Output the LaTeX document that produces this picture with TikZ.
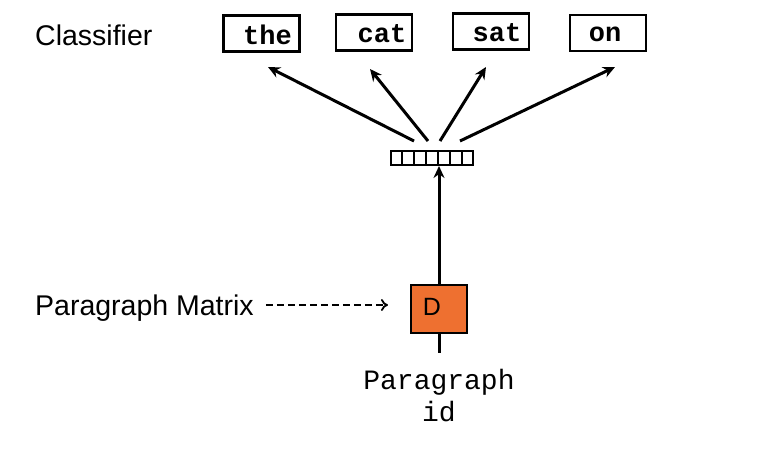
\documentclass[tikz,border=0pt]{standalone}
\usepackage{fontspec}
\setmainfont{Liberation Sans}
\newfontfamily\monof{Liberation Mono}
\usetikzlibrary{arrows.meta,calc}
\definecolor{dorange}{HTML}{EE7030}
\tikzset{
  wordbox/.style={draw, line width=2.4pt, minimum width=76pt, minimum height=36pt, inner sep=0pt},
  wordtxt/.style={font=\monof\bfseries\fontsize{27}{27}\selectfont, inner sep=0pt},
  sanslbl/.style={font=\fontsize{28.5}{30}\selectfont, inner sep=0pt},
  arr/.style={line width=3pt, -{Stealth[length=12pt,width=11pt]}},
}
\begin{document}
\begin{tikzpicture}[x=1pt,y=-1pt]
\useasboundingbox (0,0) rectangle (764,450);
\node[sanslbl, anchor=west] (cls) at (35,35) {Classifier};
\node[wordbox] (b1) at (261.5,33.5) {};
\node[wordbox] (b2) at (374,32.5) {};
\node[wordbox] (b3) at (491,31.5) {};
\node[wordbox] (b4) at (608,33) {};
\node[wordtxt] (t1) at ([xshift=6pt,yshift=-1.5pt]b1.center) {the};
\node[wordtxt] (t2) at ([xshift=8pt,yshift=-1.5pt]b2.center) {cat};
\node[wordtxt] (t3) at ([xshift=6pt,yshift=-1.5pt]b3.center) {sat};
\node[wordtxt] (t4) at ([xshift=-3pt,yshift=-1.5pt]b4.center) {on};
% vector
\node[draw, line width=2pt, minimum width=82pt, minimum height=14pt, inner sep=0pt] (vec) at (432,158) {};
\foreach \i in {1,...,6} {
  \draw[line width=1.8pt] ($(vec.north west)!\i/7!(vec.north east)$) -- ($(vec.south west)!\i/7!(vec.south east)$);
}
\coordinate (s1) at (414,141);
\coordinate (s2) at (428,141);
\coordinate (s3) at (440,141);
\coordinate (s4) at (460,141);
\coordinate (e1) at (268,67);
\coordinate (e2) at (370,69);
\coordinate (e3) at (486,67);
\coordinate (e4) at (615,67);
\draw[arr] (s1) -- (e1);
\draw[arr] (s2) -- (e2);
\draw[arr] (s3) -- (e3);
\draw[arr] (s4) -- (e4);
% D box
\node[draw, line width=2.2pt, fill=dorange, minimum width=56pt, minimum height=48pt, inner sep=0pt] (D) at (439,309) {};
\node[font=\fontsize{25}{25}\selectfont, inner sep=0pt] (Dt) at ([xshift=-7pt,yshift=2pt]D.center) {D};
\draw[arr] (D.north) -- (D.north |- vec.south);
\coordinate (idtop) at (439,353);
\draw[line width=3pt] (D.south) -- (idtop);
\node[font=\monof\fontsize{28}{32}\selectfont, align=center, inner sep=0pt] (pid) at (439,396) {Paragraph\\id};
\node[sanslbl, anchor=west] (pm) at (35,308) {Paragraph Matrix};
\draw[line width=1.8pt, dash pattern=on 7pt off 4pt, -{To[length=7pt,width=12pt]}] ([xshift=12pt,yshift=3pt]pm.east) -- ++(122,0) coordinate (dend);
\end{tikzpicture}
\end{document}
